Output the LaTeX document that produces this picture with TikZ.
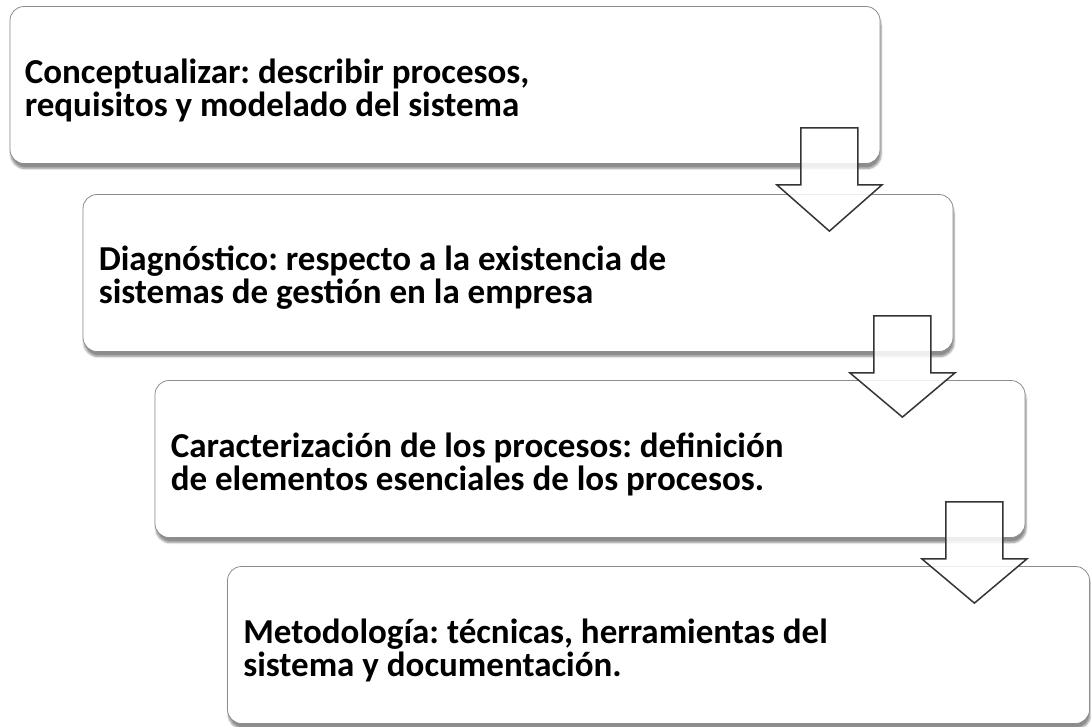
\documentclass[tikz,border=0pt]{standalone}
\usepackage{fontspec}
\setmainfont{Carlito}
\frenchspacing
\definecolor{Edge}{RGB}{140,140,140}
\definecolor{Ink}{RGB}{52,52,52}
\usepackage{tikz}
\usetikzlibrary{calc,shadows.blur}

\tikzset{
  stagebox/.style={draw=Edge,line width=0.8pt,fill=white,rounded corners=14pt,
    minimum width=870pt,minimum height=157pt,inner sep=0pt,
    blur shadow={shadow xshift=1pt,shadow yshift=-5pt,shadow blur steps=6,shadow opacity=45}},
  stagetext/.style={anchor=west,align=left,inner sep=0pt,
    font=\bfseries\fontsize{35}{33}\selectfont},
  blockarrow/.style={draw=Ink,line width=1.5pt,fill=white,fill opacity=0.85,line join=miter}
}
\newcommand{\stageArrow}[2]{%
  \coordinate (t) at ($(#1.south east)+(-51,0)$);
  \draw[blockarrow] ($(t)+(-28.5,-36)$) -- ($(t)+(28.5,-36)$) -- ($(t)+(28.5,21)$)
    -- ($(t)+(52.5,21)$) -- ($(t |- #2.north)+(0,37)$) -- ($(t)+(-52.5,21)$)
    -- ($(t)+(-28.5,21)$) -- cycle;}

\begin{document}
\begin{tikzpicture}[x=1pt,y=-1pt]
  \useasboundingbox (0,0) rectangle (1091,726);

  \node[stagebox] (conc) at (445,85) {};
  \node[stagebox] (diag) at (518,273) {};
  \node[stagebox] (carac) at (590,459) {};
  \node[stagebox,minimum width=862pt] (metod) at (658.5,645) {};

  \node[stagetext] (conc-txt) at ($(conc.west)+(15,5)$)
    {Conceptualizar: describir procesos,\\requisitos y modelado del sistema};
  \node[stagetext] (diag-txt) at ($(diag.west)+(16,5)$)
    {Diagnóstico: respecto a la existencia de\\sistemas de gestión en la empresa};
  \node[stagetext] (carac-txt) at ($(carac.west)+(16,5)$)
    {Caracterización de los procesos: definición\\de elementos esenciales de los procesos.};
  \node[stagetext] (metod-txt) at ($(metod.west)+(16,5)$)
    {Metodología: técnicas, herramientas del\\sistema y documentación.};

  \stageArrow{conc}{diag}
  \stageArrow{diag}{carac}
  \stageArrow{carac}{metod}
\end{tikzpicture}
\end{document}
